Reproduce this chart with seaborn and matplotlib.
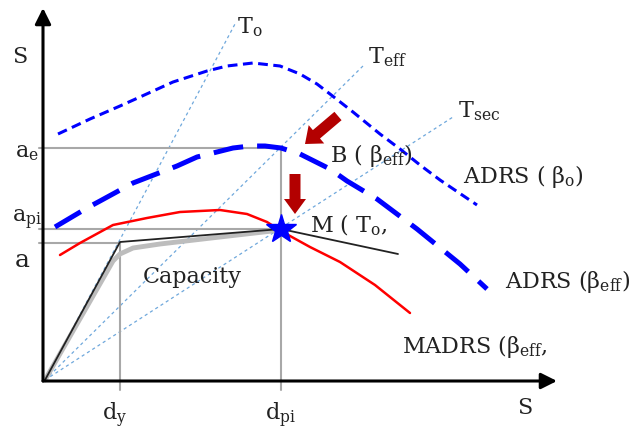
import matplotlib
matplotlib.use("Agg")
import matplotlib.pyplot as plt
import seaborn as sns

# ---- data (diagram units: spectral displacement, spectral acceleration) ----
adrs_o_x = [13, 45, 75, 95, 128, 162, 182, 208, 235, 255, 272, 285, 308, 335, 355, 375, 395, 432]
adrs_o_y = [246, 261, 274, 283, 298, 309, 314, 317, 314, 306, 296, 286, 268, 246, 231, 215, 200, 175]

adrs_eff_x = [10, 42, 55, 88, 132, 152, 188, 205, 220, 236, 255, 285, 302, 332, 372, 415, 442]
adrs_eff_y = [153, 172, 179, 197, 214, 223, 232, 234, 234, 232, 226, 211, 199, 181, 151, 116, 91]

madrs_x = [15, 35, 68, 102, 135, 175, 202, 222, 236, 265, 295, 330, 365]
madrs_y = [125, 137, 155, 162, 168, 170, 166, 158, 149, 133, 118, 95, 67]

cap_x = [0, 75, 236, 353]
cap_y = [0, 138, 151, 126]

cap_smooth_x = [0, 68, 75, 88, 115, 175, 236]
cap_smooth_y = [0, 119, 126, 132, 136, 143, 150]

period_end_x = [190, 320, 408]   # T_o, T_eff, T_sec
period_end_y = [356, 316, 263]

d_y, d_pi = 75, 236
a_y, a_pi, a_e = 137, 151, 232

sns.set_theme(style="white")
plt.rcParams["font.family"] = ["DejaVu Serif"]
plt.rcParams["mathtext.fontset"] = "dejavuserif"

fig = plt.figure(figsize=(6.4, 4.35), dpi=100)
ax = fig.add_axes([0, 0, 1, 1])
ax.set_xlim(-45, 595)
ax.set_ylim(-54, 381)
ax.axis("off")

# period lines
for ex, ey in zip(period_end_x, period_end_y):
    sns.lineplot(x=[0, ex], y=[0, ey], ax=ax, color="#6fa8dc", lw=0.9,
                 linestyle=(0, (2.5, 2.5)), sort=False, estimator=None)

# guide lines
gray = "#a8a8a8"
sns.lineplot(x=[-6, d_pi], y=[a_e, a_e], ax=ax, color=gray, lw=1.5, estimator=None)
sns.lineplot(x=[-6, d_pi], y=[a_pi, a_pi], ax=ax, color=gray, lw=1.5, estimator=None)
sns.lineplot(x=[-6, d_y], y=[a_y, a_y], ax=ax, color=gray, lw=1.5, estimator=None)
sns.lineplot(x=[d_pi, d_pi], y=[-10, a_e], ax=ax, color=gray, lw=1.5, estimator=None, sort=False)
sns.lineplot(x=[d_y, d_y], y=[-10, a_y], ax=ax, color=gray, lw=1.5, estimator=None, sort=False)

# capacity
sns.lineplot(x=cap_smooth_x, y=cap_smooth_y, ax=ax, color="#bdbdbd", lw=3.5,
             sort=False, estimator=None)
sns.lineplot(x=cap_x, y=cap_y, ax=ax, color="#222222", lw=1.3, sort=False, estimator=None)

# spectra
sns.lineplot(x=madrs_x, y=madrs_y, ax=ax, color="#ff0000", lw=1.8, sort=False, estimator=None)
sns.lineplot(x=adrs_eff_x, y=adrs_eff_y, ax=ax, color="#0000ff", lw=3.6,
             linestyle=(0, (6, 2.8)), sort=False, estimator=None)
sns.lineplot(x=adrs_o_x, y=adrs_o_y, ax=ax, color="#0000ff", lw=2.2,
             linestyle=(0, (3.2, 1.8)), sort=False, estimator=None)
for ln in ax.lines:
    ln.set_solid_joinstyle("round")
    ln.set_dash_joinstyle("round")

# performance point
ax.plot([d_pi], [a_pi], marker="*", ms=22, color="#0000ff", mec="#0000ff", zorder=5)

# red block arrows
ax.arrow(293, 264, -33, -28, width=11, head_width=24, head_length=15,
         length_includes_head=True, color="#b30000", lw=0, zorder=6)
ax.arrow(250, 206, 0, -40, width=11, head_width=22, head_length=15,
         length_includes_head=True, color="#b30000", lw=0, zorder=6)

# axes arrows
ap = dict(arrowstyle="-|>", lw=2.2, color="black", mutation_scale=24, shrinkA=0, shrinkB=0)
ax.annotate("", xy=(-2, 372), xytext=(-2, -1), arrowprops=ap)
ax.annotate("", xy=(512, -1), xytext=(-2, -1), arrowprops=ap)

tc = "#222222"
fs = 16
ax.text(-25, 324, "S", fontsize=fs, color=tc, ha="center", va="center")
ax.text(480, -27, "S", fontsize=fs, color=tc, ha="center", va="center")

ax.text(-30, 224, r"a$_\mathregular{e}$", fontsize=fs, color=tc, va="baseline")
ax.text(-33, 159, r"a$_\mathregular{pi}$", fontsize=fs, color=tc, va="baseline")
ax.text(-30, 114, "a", fontsize=fs + 2, color=tc, va="baseline")
ax.text(57, -39, r"d$_\mathregular{y}$", fontsize=fs, color=tc, va="baseline")
ax.text(220, -39, r"d$_\mathregular{pi}$", fontsize=fs, color=tc, va="baseline")

ax.text(192, 348, r"T$_\mathregular{o}$", fontsize=fs, color=tc, va="baseline")
ax.text(323, 318, r"T$_\mathregular{eff}$", fontsize=fs, color=tc, va="baseline")
ax.text(413, 264, r"T$_\mathregular{sec}$", fontsize=fs, color=tc, va="baseline")

ax.text(285, 219, r"B ( β$_\mathregular{eff}$)", fontsize=fs, color=tc, va="baseline")
ax.text(265, 149, r"M ( T$_\mathregular{o}$,", fontsize=fs, color=tc, va="baseline")
ax.text(418, 198, r"ADRS ( β$_\mathregular{o}$)", fontsize=fs, color=tc, va="baseline")
ax.text(460, 93, r"ADRS (β$_\mathregular{eff}$)", fontsize=fs, color=tc, va="baseline")
ax.text(357, 28, r"MADRS (β$_\mathregular{eff}$,", fontsize=fs, color=tc, va="baseline")
ax.text(98, 98, "Capacity", fontsize=fs, color=tc, va="baseline")

fig.savefig("out.png", dpi=100)
